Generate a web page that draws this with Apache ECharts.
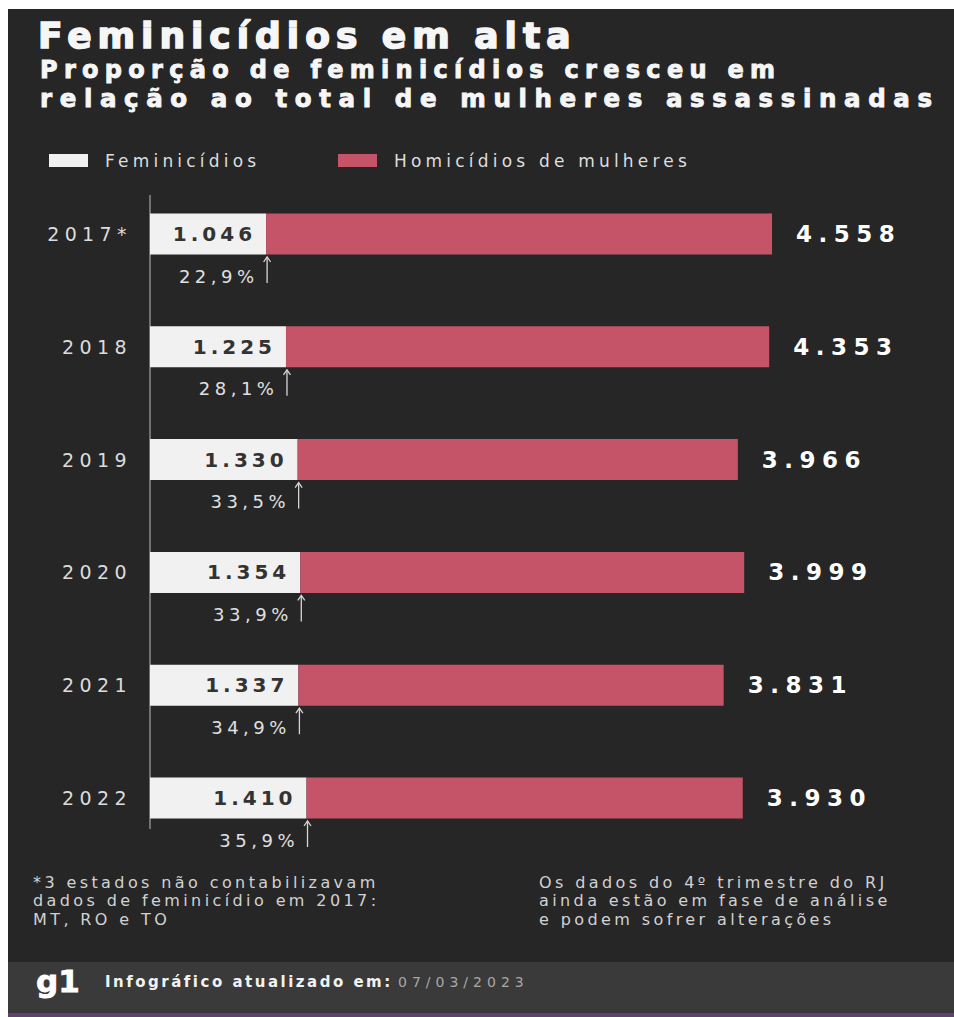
<!DOCTYPE html>
<html><head><meta charset="utf-8">
<script src="https://cdn.jsdelivr.net/npm/echarts@6/dist/echarts.min.js"></script>
<style>
html,body{margin:0;padding:0;background:#fff;}
#c{width:954px;height:1017px;}
#c text[style*="36px"]{letter-spacing:6px}
#c text[style*="24px"]{letter-spacing:6.3px}
#c text[style*="24.5px"]{letter-spacing:7.6px}
#c text[style*="17px"]{letter-spacing:4.2px}
#c text[style*="19px"]{letter-spacing:5.4px}
#c text[style*="20px"]{letter-spacing:4px}
#c text[style*="23px"]{letter-spacing:6.5px}
#c text[style*="18px"]{letter-spacing:4.5px}
#c text[style*="16px"]{letter-spacing:3.4px}
#c text[style*="15px"]{letter-spacing:2.5px}
#c text[style*="14px"]{letter-spacing:5px}
</style>
</head><body>
<div id="c"></div>
<script>
// ---- data ----
const years = ['2017*', '2018', '2019', '2020', '2021', '2022'];
const feminicidios = [1046, 1225, 1330, 1354, 1337, 1410];
const homicidios = [4558, 4353, 3966, 3999, 3831, 3930];
const pctLabels = ['22,9%', '28,1%', '33,5%', '33,9%', '34,9%', '35,9%'];
const seriesNames = ['Feminicídios', 'Homicídios de mulheres'];
const titleText = 'Feminicídios em alta';
const subtitleLines = ['Proporção de feminicídios cresceu em', 'relação ao total de mulheres assassinadas'];
const noteLeft = ['*3 estados não contabilizavam', 'dados de feminicídio em 2017:', 'MT, RO e TO'];
const noteRight = ['Os dados do 4º trimestre do RJ', 'ainda estão em fase de análise', 'e podem sofrer alterações'];
const footerLabel = 'Infográfico atualizado em:';
const footerDate = '07/03/2023';

const FONT = "'DejaVu Sans', sans-serif";
const fmt = v => String(v).replace(/\B(?=(\d{3})+(?!\d))/g, '.');

const chart = echarts.init(document.getElementById('c'), null, {renderer: 'svg'});

function txt(text, x, y, size, weight, fill, stroke) {
  const s = {text: text, x: x, y: y, fontSize: size, fontWeight: weight || 'normal',
    fontFamily: FONT, fill: fill, textAlign: 'left', textVerticalAlign: 'middle'};
  if (stroke) { s.stroke = fill; s.lineWidth = stroke; }
  return {type: 'text', silent: true, style: s};
}

const graphics = [
  {type: 'rect', z: -10, silent: true, shape: {x: 8, y: 9, width: 946, height: 1008}, style: {fill: '#262626'}},
  {type: 'rect', z: -9, silent: true, shape: {x: 8, y: 962, width: 946, height: 51}, style: {fill: '#3a3a3a'}},
  {type: 'rect', z: -9, silent: true, shape: {x: 8, y: 1013, width: 946, height: 4}, style: {fill: '#5f4270'}},
  txt(titleText, 38, 35, 36, 'bold', '#f6f6f6', 1.6),
  txt(subtitleLines[0], 40, 70, 24, 'bold', '#f6f6f6', 0.9),
  txt(subtitleLines[1], 40, 98.5, 24.5, 'bold', '#f6f6f6', 0.9),
  txt('g1', 36, 981, 31, 'bold', '#ffffff', 0.8),
  txt(footerLabel, 105, 982, 15, 'bold', '#f2f2f2'),
  txt(footerDate, 398, 982, 14, 'normal', '#a8a8a8')
];
noteLeft.forEach((t, i) => graphics.push(txt(t, 33, 882 + i * 18.5, 16, 'normal', '#d2d2d2')));
noteRight.forEach((t, i) => graphics.push(txt(t, 539, 882 + i * 18.5, 16, 'normal', '#d2d2d2')));

const legendBase = {
  icon: 'rect', itemWidth: 39, itemHeight: 13, top: 147, selectedMode: false,
  textStyle: {color: '#dedede', fontSize: 17, fontFamily: FONT, padding: [0, 0, 0, 12]}
};

chart.setOption({
  backgroundColor: '#ffffff',
  animation: false,
  graphic: graphics,
  legend: [
    Object.assign({}, legendBase, {data: [seriesNames[0]], left: 44}),
    Object.assign({}, legendBase, {data: [seriesNames[1]], left: 333})
  ],
  grid: {left: 150, right: 27, top: 177.6, bottom: 162.6},
  xAxis: {type: 'value', min: 0, max: 7000, show: false},
  yAxis: {
    type: 'category', data: years, inverse: true,
    axisLine: {show: false}, axisTick: {show: false}, splitLine: {show: false},
    axisLabel: {color: '#dcdcdc', fontSize: 19, fontFamily: FONT, margin: 18}
  },
  series: [
    {
      type: 'custom', name: 'eixo', silent: true, z: 1,
      data: [[0, 0]], encode: {x: 0, y: 1},
      renderItem: function (params, api) {
        const p0 = api.coord([0, 0]);
        const p1 = api.coord([0, years.length - 1]);
        return {type: 'line', shape: {x1: p0[0], y1: p0[1] - 39, x2: p0[0], y2: p1[1] + 31},
          style: {stroke: '#bdbdbd', lineWidth: 1}};
      }
    },
    {
      name: seriesNames[0], type: 'bar', stack: 'total', barWidth: 41, z: 3,
      data: feminicidios, itemStyle: {color: '#f1f1f1'},
      label: {show: true, position: 'insideRight', distance: 10, color: '#333333', fontSize: 20,
        fontWeight: 'bold', fontFamily: FONT, formatter: p => fmt(p.value)}
    },
    {
      name: seriesNames[1], type: 'bar', stack: 'total', barWidth: 41, z: 3,
      data: homicidios, itemStyle: {color: '#c65468'},
      label: {show: true, position: 'right', distance: 24, color: '#ffffff', fontSize: 23,
        fontWeight: 'bold', fontFamily: FONT, formatter: p => fmt(p.value)}
    },
    {
      type: 'custom', name: 'proporcao', silent: true, z: 4,
      data: years.map((y, i) => [feminicidios[i], i]), encode: {x: 0, y: 1},
      renderItem: function (params, api) {
        const p = api.coord([api.value(0), api.value(1)]);
        const x = p[0] + 1, y = p[1];
        return {type: 'group', children: [
          {type: 'line', shape: {x1: x, y1: y + 23, x2: x, y2: y + 49}, style: {stroke: '#d6d6d6', lineWidth: 1.3}},
          {type: 'polyline', shape: {points: [[x - 3.5, y + 28], [x, y + 23], [x + 3.5, y + 28]]},
            style: {stroke: '#d6d6d6', fill: null, lineWidth: 1.3}},
          {type: 'text', style: {text: pctLabels[params.dataIndex], x: x - 8.5, y: y + 42, textAlign: 'right',
            textVerticalAlign: 'middle', fill: '#e0e0e0', fontSize: 18, fontFamily: FONT}}
        ]};
      }
    }
  ]
});
</script>
</body></html>
